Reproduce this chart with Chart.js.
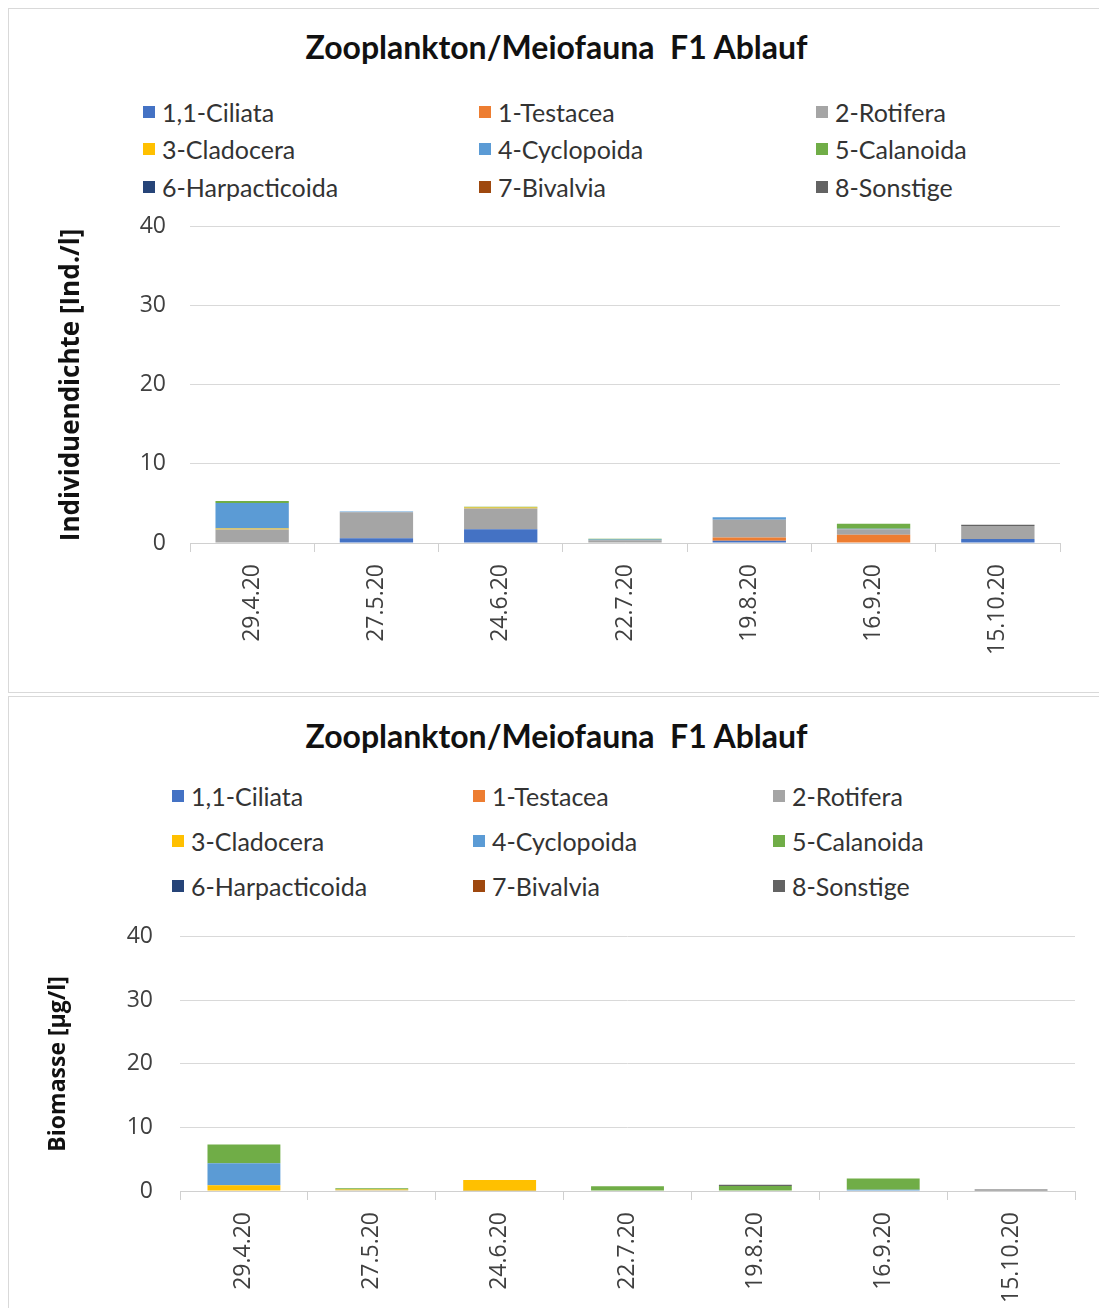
<!DOCTYPE html>
<html lang="de">
<head>
<meta charset="UTF-8">
<title>Zooplankton/Meiofauna F1 Ablauf</title>
<script src="https://cdn.jsdelivr.net/npm/chart.js"></script>
<style>
    body { margin: 0; background: #fff; width: 1099px; height: 1308px; overflow: hidden; position: relative; font-family: Lato, "Open Sans", sans-serif; }
    .panel { position: absolute; left: 8px; width: 1100px; border: 1px solid #d9d9d9; background: #fff; box-sizing: border-box; }
    .title { position: absolute; left: 7px; width: 1099px; text-align: center; font: bold 32px Lato, sans-serif; color: #111; }
    .legend { position: absolute; display: grid; font: 25px Lato, sans-serif; color: #333; }
    .legend div { white-space: nowrap; display: flex; align-items: center; }
    .legend span.sw { display: inline-block; width: 12px; height: 12px; margin-right: 7px; }
    .chart-box { position: absolute; left: 8px; width: 1091px; }
</style>
</head>
<body>
<div class="panel" style="top:8px;height:685px;"></div>
<div class="panel" style="top:696px;height:620px;"></div>

<div class="title" style="top:27px;">Zooplankton/Meiofauna&nbsp; F1 Ablauf</div>
<div class="legend" id="legend1" style="left:143px;top:93px;grid-template-columns:336px 337px 260px;grid-auto-rows:37.5px;"></div>
<div class="chart-box" style="top:189px;height:501px;"><canvas id="dichteChart"></canvas></div>

<div class="title" style="top:716px;">Zooplankton/Meiofauna&nbsp; F1 Ablauf</div>
<div class="legend" id="legend2" style="left:172px;top:773px;grid-template-columns:301px 300px 260px;grid-auto-rows:45px;"></div>
<div class="chart-box" style="top:896px;height:412px;"><canvas id="biomasseChart"></canvas></div>

<script>
    const dates = ['29.4.20', '27.5.20', '24.6.20', '22.7.20', '19.8.20', '16.9.20', '15.10.20'];
    const groups = ['1,1-Ciliata', '1-Testacea', '2-Rotifera', '3-Cladocera', '4-Cyclopoida', '5-Calanoida', '6-Harpacticoida', '7-Bivalvia', '8-Sonstige'];
    const groupColors = ['#4472C4', '#ED7D31', '#A5A5A5', '#FFC000', '#5B9BD5', '#70AD47', '#264478', '#9E480E', '#636363'];
    const yTicks = [0, 10, 20, 30, 40];

    // Individuendichte [Ind./l]
    const dichteCiliata = [0, 0.6, 1.75, 0, 0.3, 0, 0.5];
    const dichteTestacea = [0, 0, 0, 0, 0.4, 1.05, 0];
    const dichteRotifera = [1.7, 3.3, 2.6, 0.35, 2.25, 0.7, 1.65];
    const dichteCladocera = [0.15, 0, 0.15, 0, 0, 0, 0];
    const dichteCyclopoida = [3.2, 0.1, 0, 0.1, 0.3, 0.05, 0];
    const dichteCalanoida = [0.25, 0, 0.1, 0.1, 0, 0.65, 0];
    const dichteHarpacticoida = [0, 0, 0, 0, 0, 0, 0];
    const dichteBivalvia = [0, 0, 0, 0, 0, 0, 0];
    const dichteSonstige = [0, 0, 0, 0, 0, 0, 0.17];

    // Biomasse [µg/l]
    const bioCiliata = [0, 0, 0, 0, 0, 0, 0];
    const bioTestacea = [0, 0, 0, 0, 0, 0, 0];
    const bioRotifera = [0, 0.1, 0.05, 0, 0, 0, 0];
    const bioCladocera = [0.9, 0.15, 1.7, 0, 0, 0, 0];
    const bioCyclopoida = [3.45, 0, 0, 0, 0, 0.2, 0];
    const bioCalanoida = [2.95, 0.2, 0, 0.75, 0.8, 1.75, 0];
    const bioHarpacticoida = [0, 0, 0, 0, 0, 0, 0];
    const bioBivalvia = [0, 0, 0, 0, 0, 0, 0];
    const bioSonstige = [0, 0, 0, 0, 0.2, 0, 0.25];

    const dichteSeries = [dichteCiliata, dichteTestacea, dichteRotifera, dichteCladocera, dichteCyclopoida, dichteCalanoida, dichteHarpacticoida, dichteBivalvia, dichteSonstige];
    const bioSeries = [bioCiliata, bioTestacea, bioRotifera, bioCladocera, bioCyclopoida, bioCalanoida, bioHarpacticoida, bioBivalvia, bioSonstige];

    function buildLegend(id) {
        const el = document.getElementById(id);
        groups.forEach((g, i) => {
            const item = document.createElement('div');
            item.innerHTML = '<span class="sw" style="background:' + groupColors[i] + '"></span>' + g;
            el.appendChild(item);
        });
    }
    buildLegend('legend1');
    buildLegend('legend2');

    function createChart(canvasId, series, axisTitle, opts) {
        return new Chart(document.getElementById(canvasId), {
            type: 'bar',
            data: {
                labels: dates,
                datasets: series.map((d, i) => ({
                    label: groups[i], data: d, backgroundColor: groupColors[i],
                    categoryPercentage: 1, barPercentage: opts.barPct
                }))
            },
            options: {
                responsive: true, maintainAspectRatio: false, animation: false,
                layout: { padding: { top: opts.top, right: opts.right, left: opts.left, bottom: 0 } },
                plugins: { legend: { display: false }, tooltip: { enabled: false } },
                scales: {
                    x: {
                        stacked: true,
                        grid: { display: true, drawOnChartArea: false, offset: true, tickLength: 9, color: '#d0d0d0' },
                        border: { color: '#d0d0d0' },
                        ticks: { minRotation: 90, maxRotation: 90, padding: 12, color: '#404040', font: { family: 'Open Sans', size: 23 } },
                        afterFit: s => { s.height = opts.xHeight; }
                    },
                    y: {
                        stacked: true, min: 0, max: 40,
                        afterBuildTicks: s => { s.ticks = yTicks.map(v => ({ value: v })); },
                        grid: { color: '#d9d9d9', drawTicks: false },
                        border: { display: false },
                        ticks: { padding: opts.tickPad, color: '#404040', font: { family: 'Open Sans', size: 23 } },
                        title: { display: true, text: axisTitle, color: '#111', font: { family: 'Open Sans', size: opts.titleSize, weight: 'bold' }, padding: 0 },
                        afterFit: s => { s.width = opts.yWidth; }
                    }
                }
            }
        });
    }

    createChart('dichteChart', dichteSeries, 'Individuendichte [Ind./l]', { top: 21, right: 39, left: 48, xHeight: 147, yWidth: 134, barPct: 0.59, tickPad: 24, titleSize: 26 });
    createChart('biomasseChart', bioSeries, 'Biomasse [µg/l]', { top: 30, right: 24, left: 37, xHeight: 117, yWidth: 135, barPct: 0.57, tickPad: 27, titleSize: 23 });
</script>
</body>
</html>
